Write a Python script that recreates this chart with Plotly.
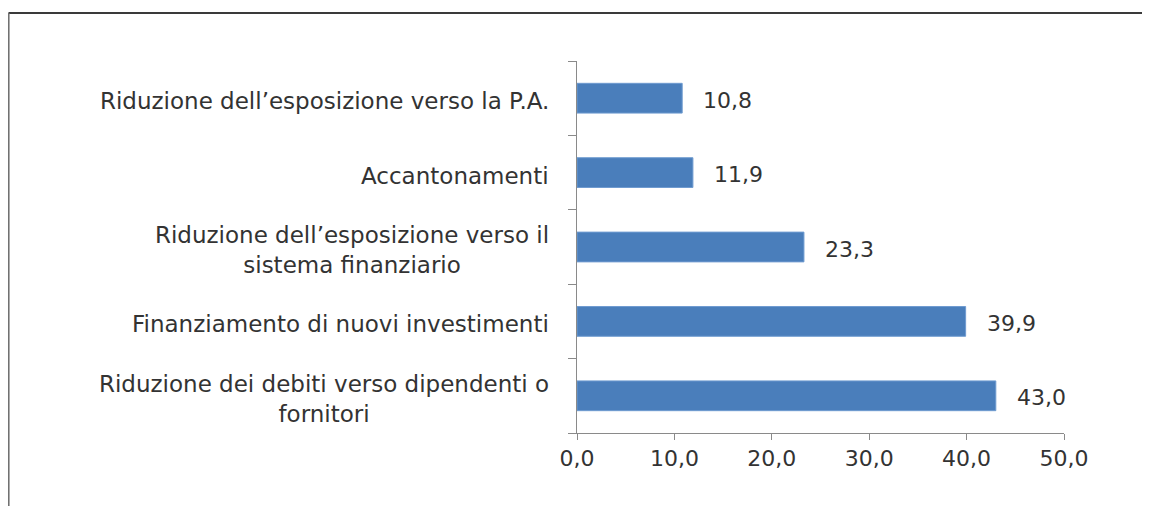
import plotly.graph_objects as go

categories = [
    "Riduzione dei debiti verso dipendenti o<br>fornitori",
    "Finanziamento di nuovi investimenti",
    "Riduzione dell’esposizione verso il<br>sistema finanziario",
    "Accantonamenti",
    "Riduzione dell’esposizione verso la P.A.",
]
values = [43.0, 39.9, 23.3, 11.9, 10.8]
x_ticks = [0, 10, 20, 30, 40, 50]
x_tick_labels = ["0,0", "10,0", "20,0", "30,0", "40,0", "50,0"]

FONT = "DejaVu Sans"
FS_CAT = 23
FS_VAL = 22
TXT = "#333333"
AX = "#8a8a8a"
OFF = 8  # page body margin

fig = go.Figure()
fig.add_trace(go.Bar(
    y=categories, x=values, orientation="h",
    marker=dict(color="#4a7ebb", line=dict(color="#6f9bd0", width=1)),
    hoverinfo="skip",
))

annotations = []
for c, v in zip(categories, values):
    annotations.append(dict(
        x=v, y=c, xref="x", yref="y", xanchor="left", yanchor="middle",
        xshift=19, yshift=-2, showarrow=False,
        text=f"{v:.1f}".replace(".", ","),
        font=dict(family=FONT, size=FS_VAL, color=TXT),
    ))
    annotations.append(dict(
        x=0, y=c, xref="paper", yref="y", xanchor="right", yanchor="middle",
        xshift=-26, yshift=-3, showarrow=False, align="center",
        text=c, font=dict(family=FONT, size=FS_CAT, color=TXT),
    ))

W, H = 1150 - OFF, 506 - OFF
L, R, T, B = 577 - OFF, 1064 - OFF, 61 - OFF, 433 - OFF
pw, ph = R - L, B - T

def px(x):
    return (x - OFF - L) / pw

def py(y):
    return (B - (y - OFF)) / ph

shapes = [
    dict(type="line", xref="paper", yref="paper", x0=px(8.5), x1=px(1160), y0=py(13), y1=py(13),
         line=dict(color="#3a3a3a", width=2)),
    dict(type="line", xref="paper", yref="paper", x0=px(8.8), x1=px(8.8), y0=py(13), y1=py(520),
         line=dict(color="#6a6a6a", width=1.5)),
]

fig.update_layout(
    width=W, height=H,
    margin=dict(l=L, r=W - R, t=T, b=H - B, pad=0),
    paper_bgcolor="white", plot_bgcolor="white",
    showlegend=False, bargap=0.6,
    separators=",.",
    annotations=annotations, shapes=shapes,
    font=dict(family=FONT, size=FS_VAL, color=TXT),
)
fig.update_xaxes(
    range=[0, 50], tickvals=x_ticks, ticktext=x_tick_labels,
    showgrid=False, zeroline=False, showline=True, linecolor=AX, linewidth=1,
    ticks="outside", ticklen=6, tickcolor=AX,
    tickfont=dict(family=FONT, size=FS_VAL, color=TXT),
)
fig.update_yaxes(
    showticklabels=False, showgrid=False, zeroline=False,
    showline=True, linecolor=AX, linewidth=1,
    ticks="outside", ticklen=8, tickcolor=AX, tickson="boundaries",
    categoryorder="array", categoryarray=categories,
)

fig.write_html("out.html")
